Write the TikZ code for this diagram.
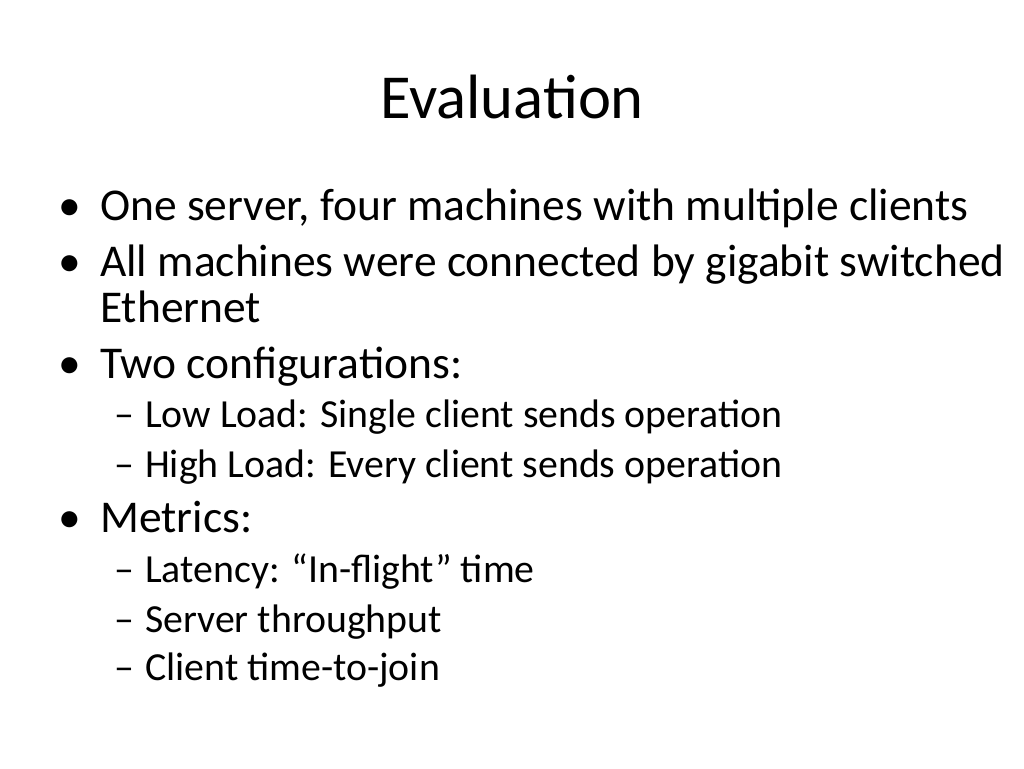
\documentclass[tikz,border=0pt]{standalone}
\usepackage{fontspec}
\setmainfont{Carlito}
\begin{document}
\begin{tikzpicture}[x=1pt,y=-1pt,
 body/.style={anchor=base west,inner sep=0pt,font=\fontsize{45.5}{50}\selectfont},
 sub/.style={anchor=base west,inner sep=0pt,font=\fontsize{39.8}{44}\selectfont}]
\useasboundingbox (0,0) rectangle (1024,768);
\node[anchor=base,inner sep=0pt,font=\fontsize{62.6}{70}\selectfont] (t) at (512,118) {Evaluation};
\foreach \n/\y/\s in {a/220/{One server, four machines with multiple clients},
 b/276/{All machines were connected by gigabit switched},
 d/378/{Two configurations:}, g/532/{Metrics:}}{
 \node[body] (\n) at (100,\y) {\s};
 \node[body] (\n b) at (58,\y) {•};}
\node[body] (c) at (100,322) {Ethernet};
\foreach \n/\y/\s in {e/427/{Low Load: Single client sends operation},
 f/477/{High Load: Every client sends operation},
 h/582/{Latency: “In-flight” time}, i/632/{Server throughput}, j/680/{Client time-to-join}}{
 \node[sub] (\n) at (145,\y) {\s};
 \node[sub] (\n d) at (114,\y) {–};}
\end{tikzpicture}
\end{document}
